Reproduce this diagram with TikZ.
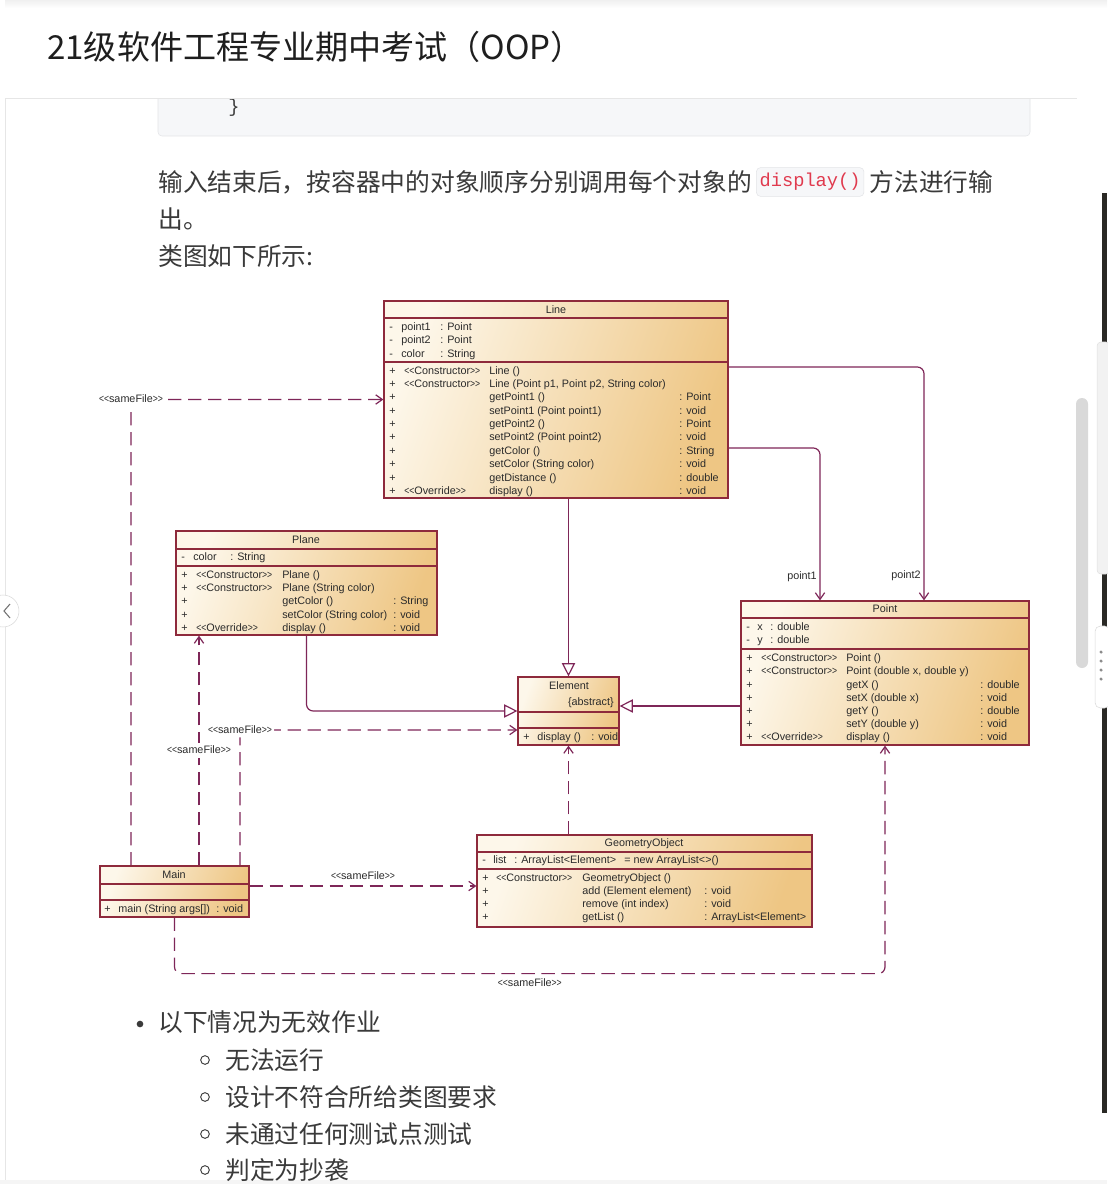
\documentclass[tikz,border=0pt]{standalone}
\usepackage{graphicx}
\usepackage{fontspec}
\setmainfont{Liberation Sans}
\setmonofont{Liberation Mono}
\newfontfamily\cjk{Noto Sans CJK SC}
\usetikzlibrary{arrows.meta,calc,fit,positioning}
\definecolor{UmlBorder}{HTML}{8E2A3C}
\definecolor{UmlLink}{HTML}{7E2658}
\definecolor{UmlPale}{HTML}{FDF7EA}
\definecolor{UmlTan}{HTML}{EEC684}
\definecolor{UmlText}{HTML}{2B2B2B}
\definecolor{PageText}{HTML}{3A3A3A}
\definecolor{PageTitle}{HTML}{1E1E1E}
\definecolor{PageEdge}{HTML}{E6E6E6}
\definecolor{CodeBg}{HTML}{F6F7F9}
\definecolor{CodeEdge}{HTML}{E3E4E7}
\definecolor{CodeRed}{HTML}{E03A4E}
\definecolor{ScrollGray}{HTML}{D9D9D9}
\definecolor{DarkStrip}{HTML}{2A2925}
\newcommand\umlfont{\fontsize{8.1}{9.5}\selectfont}
\newcommand\sto{\scalebox{0.8}[1]{<\kern0pt<}}
\newcommand\stc{\scalebox{0.8}[1]{>\kern0pt>}}
\tikzset{
  umlclass/.style={draw=UmlBorder,line width=0.9pt,left color=UmlPale,right color=UmlTan,shading angle=70,inner sep=0pt},
  umlsep/.style={draw=UmlBorder,line width=0.9pt},
  umltxt/.style={font=\umlfont,text=UmlText,inner sep=0pt,anchor=west,text height=6.3pt,text depth=1.8pt},
  umltitle/.style={umltxt,anchor=center},
  gen/.style={draw=UmlLink,line width=0.9pt,rounded corners=5pt,-{Triangle[open,length=10pt,width=10pt]}},
  assoc/.style={draw=UmlLink,line width=0.9pt,rounded corners=5pt,-{Straight Barb[length=5pt,width=7pt]}},
  dep/.style={assoc,dash pattern=on 10pt off 5pt},
  deplabel/.style={umltxt,anchor=center,fill=white,inner sep=1.5pt},
  cjktext/.style={font=\cjk\fontsize{18.55}{22}\selectfont,text=PageText,inner sep=0pt,anchor=west,text height=16.3pt,text depth=2.2pt},
  pagetitle/.style={font=\cjk\fontsize{24.8}{28}\selectfont,text=PageTitle,inner sep=0pt,anchor=west,text height=21.8pt,text depth=3pt},
  inlinecode/.style={font=\ttfamily\fontsize{14}{16}\selectfont,text=CodeRed,fill=CodeBg,draw=CodeEdge,rounded corners=3pt,inner xsep=2.5pt,inner ysep=0pt,minimum height=21.5pt},
  bulletdot/.style={circle,fill=PageText,inner sep=0pt,minimum size=5pt},
  bulletring/.style={circle,draw=PageText,line width=0.7pt,inner sep=0pt,minimum size=6.5pt}
}

\begin{document}
\begin{tikzpicture}[x=0.75pt,y=-0.75pt]
  \useasboundingbox (0,0) rectangle (1107,1184);
  \fill[white] (0,0) rectangle (1107,1184);

  % page frame, code block, header
  \draw[PageEdge] (5,0) -- (5,1184);
  \fill[black!4] (0,1180) rectangle (1107,1184);
  \draw[fill=CodeBg,draw=CodeEdge,rounded corners=3pt] (158,80) rectangle (1030,136);
  \node[font=\ttfamily\fontsize{14}{16}\selectfont,text=PageText,anchor=west,inner sep=0pt] (codeclose) at (228,108) {\}};
  \fill[white] (5,0) rectangle (1107,98);
  \shade[top color=black!6,bottom color=white] (5,0) rectangle (1107,8);
  \draw[PageEdge] (5,98) -- (1077,98);
  \node[pagetitle] (title) at (47,47) {21级软件工程专业期中考试（OOP）};

  % text above the diagram
  \node[cjktext] (intro1) at (158,182) {输入结束后，按容器中的对象顺序分别调用每个对象的};
  \node[inlinecode,right=3pt of intro1] (introcode) {display()};
  \node[cjktext,right=4pt of introcode] (intro2) {方法进行输};
  \node[cjktext] (intro3) at (158,219) {出。};
  \node[cjktext] (intro4) at (158,256) {类图如下所示:};

  % class Line
  \node[umlclass,fit={(384,301) (728,498)}] (line) {};
  \node[umltitle] (line-t) at (556,310) {Line};
  \draw[umlsep] (line.west |- 0,318) -- (line.east |- 0,318);
  \draw[umlsep] (line.west |- 0,362) -- (line.east |- 0,362);
  \foreach \y/\n/\t [count=\i] in {327/point1/{: Point},340/point2/{: Point},354/color/{: String}}{
    \node[umltxt] (line-a\i-v) at (389,\y) {-};
    \node[umltxt] (line-a\i-n) at (401,\y) {\n};
    \node[umltxt] (line-a\i-t) at (440,\y) {\t};
  }
  \foreach \y/\s/\m/\t [count=\i] in {
    371/{\sto Constructor\stc}/{Line ()}/{},
    384/{\sto Constructor\stc}/{Line (Point p1, Point p2, String color)}/{},
    397/{}/{getPoint1 ()}/{: Point},
    411/{}/{setPoint1 (Point point1)}/{: void},
    424/{}/{getPoint2 ()}/{: Point},
    437/{}/{setPoint2 (Point point2)}/{: void},
    451/{}/{getColor ()}/{: String},
    464/{}/{setColor (String color)}/{: void},
    478/{}/{getDistance ()}/{: double},
    491/{\sto Override\stc}/{display ()}/{: void}}{
    \node[umltxt] (line-m\i-v) at (389,\y) {+};
    \node[umltxt] (line-m\i-s) at (404,\y) {\s};
    \node[umltxt] (line-m\i-n) at (489,\y) {\m};
    \node[umltxt] (line-m\i-t) at (679,\y) {\t};
  }

  % class Plane
  \node[umlclass,fit={(176,531) (437,635)}] (plane) {};
  \node[umltitle] (plane-t) at (306,540) {Plane};
  \draw[umlsep] (plane.west |- 0,549) -- (plane.east |- 0,549);
  \draw[umlsep] (plane.west |- 0,566) -- (plane.east |- 0,566);
  \node[umltxt] (plane-a1-v) at (181,557) {-};
  \node[umltxt] (plane-a1-n) at (193,557) {color};
  \node[umltxt] (plane-a1-t) at (230,557) {: String};
  \foreach \y/\s/\m/\t [count=\i] in {
    575/{\sto Constructor\stc}/{Plane ()}/{},
    588/{\sto Constructor\stc}/{Plane (String color)}/{},
    601/{}/{getColor ()}/{: String},
    615/{}/{setColor (String color)}/{: void},
    628/{\sto Override\stc}/{display ()}/{: void}}{
    \node[umltxt] (plane-m\i-v) at (181,\y) {+};
    \node[umltxt] (plane-m\i-s) at (196,\y) {\s};
    \node[umltxt] (plane-m\i-n) at (282,\y) {\m};
    \node[umltxt] (plane-m\i-t) at (393,\y) {\t};
  }

  % class Point
  \node[umlclass,fit={(741,601) (1029,745)}] (point) {};
  \node[umltitle] (point-t) at (885,609) {Point};
  \draw[umlsep] (point.west |- 0,618) -- (point.east |- 0,618);
  \draw[umlsep] (point.west |- 0,649) -- (point.east |- 0,649);
  \foreach \y/\n [count=\i] in {627/x,640/y}{
    \node[umltxt] (point-a\i-v) at (746,\y) {-};
    \node[umltxt] (point-a\i-n) at (757,\y) {\n};
    \node[umltxt] (point-a\i-t) at (770,\y) {: double};
  }
  \foreach \y/\s/\m/\t [count=\i] in {
    658/{\sto Constructor\stc}/{Point ()}/{},
    671/{\sto Constructor\stc}/{Point (double x, double y)}/{},
    685/{}/{getX ()}/{: double},
    698/{}/{setX (double x)}/{: void},
    711/{}/{getY ()}/{: double},
    724/{}/{setY (double y)}/{: void},
    737/{\sto Override\stc}/{display ()}/{: void}}{
    \node[umltxt] (point-m\i-v) at (746,\y) {+};
    \node[umltxt] (point-m\i-s) at (761,\y) {\s};
    \node[umltxt] (point-m\i-n) at (846,\y) {\m};
    \node[umltxt] (point-m\i-t) at (980,\y) {\t};
  }

  % class Element
  \node[umlclass,fit={(518,677) (619,745)}] (element) {};
  \node[umltitle] (element-t) at (569,686) {Element};
  \node[umltxt,anchor=east] (element-k) at (614,702) {\{abstract\}};
  \draw[umlsep] (element.west |- 0,712) -- (element.east |- 0,712);
  \draw[umlsep] (element.west |- 0,728) -- (element.east |- 0,728);
  \node[umltxt] (element-m1-v) at (523,737) {+};
  \node[umltxt] (element-m1-n) at (537,737) {display ()};
  \node[umltxt] (element-m1-t) at (591,737) {: void};

  % class GeometryObject
  \node[umlclass,fit={(477,835) (812,927)}] (geo) {};
  \node[umltitle] (geo-t) at (644,843) {GeometryObject};
  \draw[umlsep] (geo.west |- 0,852) -- (geo.east |- 0,852);
  \draw[umlsep] (geo.west |- 0,869) -- (geo.east |- 0,869);
  \node[umltxt] (geo-a1-v) at (482,860) {-};
  \node[umltxt] (geo-a1-n) at (493,860) {list};
  \node[umltxt] (geo-a1-t) at (514,860) {: ArrayList<Element>};
  \node[umltxt] (geo-a1-d) at (624,860) {= new ArrayList<>()};
  \foreach \y/\s/\m/\t [count=\i] in {
    878/{\sto Constructor\stc}/{GeometryObject ()}/{},
    891/{}/{add (Element element)}/{: void},
    904/{}/{remove (int index)}/{: void},
    917/{}/{getList ()}/{: ArrayList<Element>}}{
    \node[umltxt] (geo-m\i-v) at (482,\y) {+};
    \node[umltxt] (geo-m\i-s) at (496,\y) {\s};
    \node[umltxt] (geo-m\i-n) at (582,\y) {\m};
    \node[umltxt] (geo-m\i-t) at (704,\y) {\t};
  }

  % class Main
  \node[umlclass,fit={(100,866) (249,917)}] (main) {};
  \node[umltitle] (main-t) at (174,875) {Main};
  \draw[umlsep] (main.west |- 0,884) -- (main.east |- 0,884);
  \draw[umlsep] (main.west |- 0,900) -- (main.east |- 0,900);
  \node[umltxt] (main-m1-v) at (104,909) {+};
  \node[umltxt] (main-m1-n) at (118,909) {main (String args[])};
  \node[umltxt] (main-m1-t) at (216,909) {: void};

  % generalizations
  \draw[gen] (element.north |- line.south) -- (element.north);
  \draw[gen] (plane.south) |- (element.west);
  \draw[gen] ($(point.west |- element.east)+(0,-5)$) -- ($(element.east)+(0,-5)$);

  % associations
  \draw[assoc] ($(line.east)+(0,48.5)$) -| ($(point.north)+(-65,0)$)
    node[umltxt,left=2pt,pos=0.92] (p1lbl) {point1};
  \draw[assoc] ($(line.east)+(0,-32.5)$) -| ($(point.north)+(39,0)$)
    node[umltxt,left=2pt,pos=0.947] (p2lbl) {point2};

  % sameFile dependencies
  \draw[dep] ($(main.north)+(-43.5,0)$) |- (line.west)
    node[deplabel,pos=0.5] (dep1) {\sto sameFile\stc};
  \coordinate (mp) at ($(main.north)+(24.5,0)$);
  \draw[dep] (mp) -- (mp |- plane.south)
    node[deplabel,pos=0.5] (dep2) {\sto sameFile\stc};
  \draw[dep] ($(main.north)+(65.5,0)$) |- ($(element.west)+(0,19)$)
    node[deplabel,pos=0.5] (dep3) {\sto sameFile\stc};
  \draw[dep] ($(main.east)+(0,-5.5)$) -- ($(main.east -| geo.west)+(0,-5.5)$)
    node[umltxt,above=3pt,pos=0.5] (dep4) {\sto sameFile\stc};
  \draw[dep] (main.south) -- ++(0,56) -| (point.south)
    node[umltxt,below=3pt,pos=0.25] (dep5) {\sto sameFile\stc};
  \draw[dep] (element.south |- geo.north) -- (element.south);

  % list below the diagram
  \node[bulletdot] (b0) at (140,1024) {};
  \node[cjktext] (b0-t) at (158,1022) {以下情况为无效作业};
  \foreach \y/\t [count=\i] in {1060/无法运行,1097/设计不符合所给类图要求,1134/未通过任何测试点测试,1170/判定为抄袭}{
    \node[bulletring] (b\i) at (205,\y) {};
    \node[cjktext] (b\i-t) at (225,\y) {\t};
  }

  % window edges
  \fill[ScrollGray,rounded corners=4.5pt] (1076,398) rectangle (1088,668);
  \fill[DarkStrip] (1102,193) rectangle (1107,1113);
  \draw[fill=black!5,draw=black!12,rounded corners=3pt] (1097,342) rectangle (1110,574);
  \draw[fill=white,draw=black!15,rounded corners=4pt] (1095,626) rectangle (1110,708);
  \foreach \y in {652,661,670,679}
    \fill[black!45] (1101,\y) circle (1.3pt);
  \draw[fill=white,draw=black!15] (3,611) circle (12pt);
  \draw[black!55,line width=0.8pt] (10,604) -- (4,611) -- (10,618);
\end{tikzpicture}
\end{document}
